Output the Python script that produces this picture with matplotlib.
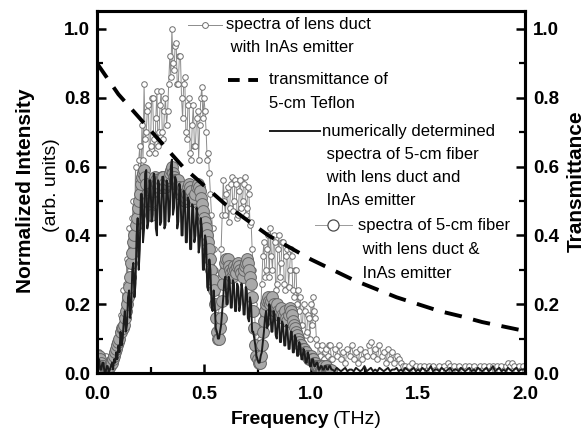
import matplotlib
matplotlib.use("Agg")
import matplotlib.pyplot as plt
import numpy as np
from matplotlib.ticker import MultipleLocator

plt.rcParams['font.family'] = ['Liberation Sans', 'DejaVu Sans']

# frequency grid (THz): 0.005 steps up to 1.095, then 0.01 steps up to 2.0
freq = np.round(np.concatenate([np.arange(220) * 0.005, 1.10 + np.arange(91) * 0.01]), 3)

# spectra of lens duct with InAs emitter (small open circles)
lens_duct = [
    0.05, 0.03, 0.06, 0.04, 0.04, 0.02, 0.03, 0.05, 0.05, 0.03,
    0.02, 0.04, 0.03, 0.02, 0.04, 0.03, 0.06, 0.04, 0.09, 0.07,
    0.12, 0.09, 0.17, 0.13, 0.24, 0.15, 0.20, 0.26, 0.33, 0.24,
    0.42, 0.30, 0.36, 0.45, 0.50, 0.40, 0.60, 0.48, 0.56, 0.62,
    0.66, 0.55, 0.72, 0.62, 0.84, 0.68, 0.70, 0.76, 0.78, 0.64,
    0.66, 0.80, 0.80, 0.68, 0.64, 0.74, 0.82, 0.66, 0.70, 0.78,
    0.82, 0.70, 0.68, 0.76, 0.80, 0.72, 0.76, 0.84, 0.92, 0.86,
    1.00, 0.90, 0.88, 0.95, 0.96, 0.84, 0.84, 0.92, 0.92, 0.80,
    0.74, 0.84, 0.86, 0.70, 0.68, 0.78, 0.80, 0.64, 0.62, 0.72,
    0.78, 0.66, 0.66, 0.74, 0.76, 0.62, 0.72, 0.80, 0.83, 0.74,
    0.80, 0.76, 0.70, 0.62, 0.64, 0.58, 0.52, 0.46, 0.42, 0.36,
    0.30, 0.22, 0.14, 0.12, 0.20, 0.28, 0.36, 0.46, 0.56, 0.50,
    0.46, 0.52, 0.54, 0.44, 0.48, 0.55, 0.57, 0.47, 0.50, 0.56,
    0.55, 0.45, 0.46, 0.53, 0.56, 0.48, 0.50, 0.55, 0.57, 0.46,
    0.48, 0.54, 0.52, 0.43, 0.44, 0.36, 0.30, 0.20, 0.12, 0.07,
    0.04, 0.06, 0.10, 0.18, 0.26, 0.34, 0.38, 0.28, 0.30, 0.36,
    0.40, 0.28, 0.42, 0.34, 0.30, 0.40, 0.38, 0.24, 0.26, 0.36,
    0.40, 0.28, 0.32, 0.38, 0.38, 0.26, 0.24, 0.34, 0.36, 0.25,
    0.30, 0.36, 0.34, 0.24, 0.22, 0.30, 0.30, 0.20, 0.24, 0.18,
    0.22, 0.14, 0.14, 0.20, 0.18, 0.11, 0.12, 0.17, 0.16, 0.10,
    0.20, 0.14, 0.22, 0.18, 0.16, 0.10, 0.08, 0.04, 0.05, 0.07,
    0.08, 0.03, 0.04, 0.06, 0.07, 0.03, 0.05, 0.08, 0.08, 0.04,
    # 1.10 .. 2.00
    0.04, 0.07, 0.05, 0.08, 0.04, 0.06, 0.03, 0.07, 0.05, 0.08,
    0.04, 0.06, 0.03, 0.07, 0.04, 0.06, 0.05, 0.08, 0.09, 0.05,
    0.07, 0.04, 0.08, 0.05, 0.06, 0.03, 0.07, 0.04, 0.06, 0.03,
    0.05, 0.04, 0.03, 0.02, 0.02, 0.01, 0.02, 0.03, 0.01, 0.02,
    0.01, 0.02, 0.01, 0.02, 0.01, 0.02, 0.01, 0.02, 0.01, 0.01,
    0.02, 0.01, 0.02, 0.01, 0.03, 0.02, 0.01, 0.02, 0.01, 0.02,
    0.01, 0.01, 0.02, 0.01, 0.02, 0.01, 0.02, 0.01, 0.01, 0.02,
    0.01, 0.02, 0.01, 0.02, 0.01, 0.02, 0.01, 0.02, 0.01, 0.02,
    0.01, 0.02, 0.03, 0.02, 0.03, 0.02, 0.01, 0.02, 0.01, 0.02,
    0.01,
]

# spectra of 5-cm fiber with lens duct & InAs emitter (big grey circles), 0 .. 1.095
fiber = [
    0.03, 0.04, 0.05, 0.04, 0.03, 0.02, 0.02, 0.01, 0.01, 0.01,
    0.01, 0.02, 0.02, 0.03, 0.03, 0.04, 0.05, 0.06, 0.07, 0.08,
    0.09, 0.10, 0.12, 0.13, 0.13, 0.14, 0.16, 0.18, 0.20, 0.22,
    0.25, 0.28, 0.32, 0.35, 0.38, 0.40, 0.43, 0.45, 0.48, 0.50,
    0.52, 0.55, 0.57, 0.58, 0.59, 0.57, 0.55, 0.52, 0.50, 0.47,
    0.46, 0.50, 0.53, 0.56, 0.57, 0.56, 0.55, 0.54, 0.54, 0.55,
    0.56, 0.57, 0.57, 0.55, 0.54, 0.55, 0.56, 0.57, 0.58, 0.59,
    0.60, 0.58, 0.57, 0.56, 0.55, 0.56, 0.56, 0.54, 0.52, 0.53,
    0.54, 0.52, 0.50, 0.51, 0.52, 0.54, 0.55, 0.54, 0.53, 0.51,
    0.50, 0.51, 0.52, 0.54, 0.55, 0.54, 0.53, 0.51, 0.49, 0.47,
    0.45, 0.44, 0.42, 0.40, 0.38, 0.36, 0.33, 0.30, 0.27, 0.24,
    0.20, 0.16, 0.12, 0.10, 0.10, 0.13, 0.16, 0.21, 0.26, 0.29,
    0.32, 0.33, 0.33, 0.31, 0.30, 0.29, 0.28, 0.30, 0.31, 0.30,
    0.29, 0.31, 0.32, 0.31, 0.30, 0.29, 0.28, 0.30, 0.31, 0.32,
    0.33, 0.32, 0.30, 0.28, 0.26, 0.22, 0.18, 0.13, 0.08, 0.05,
    0.04, 0.03, 0.03, 0.05, 0.08, 0.12, 0.15, 0.18, 0.20, 0.21,
    0.22, 0.21, 0.20, 0.21, 0.22, 0.20, 0.18, 0.19, 0.20, 0.18,
    0.17, 0.18, 0.19, 0.17, 0.16, 0.17, 0.18, 0.16, 0.15, 0.17,
    0.19, 0.18, 0.17, 0.15, 0.14, 0.13, 0.12, 0.11, 0.10, 0.09,
    0.08, 0.08, 0.07, 0.07, 0.06, 0.06, 0.05, 0.05, 0.04, 0.04,
    0.05, 0.04, 0.04, 0.03, 0.03, 0.02, 0.02, 0.02, 0.02, 0.01,
    0.01, 0.02, 0.01, 0.01, 0.02, 0.01, 0.01, 0.01, 0.01, 0.01,
]

# numerically determined spectra (solid black)
numeric = [
    0.02, 0.03, 0.04, 0.01, 0.01, 0.03, 0.03, 0.00, 0.00, 0.02,
    0.02, 0.00, 0.01, 0.02, 0.03, 0.01, 0.04, 0.03, 0.06, 0.04,
    0.08, 0.06, 0.12, 0.08, 0.10, 0.15, 0.18, 0.12, 0.14, 0.22,
    0.24, 0.16, 0.20, 0.30, 0.32, 0.22, 0.26, 0.40, 0.45, 0.30,
    0.36, 0.52, 0.52, 0.38, 0.42, 0.58, 0.59, 0.42, 0.44, 0.56,
    0.56, 0.44, 0.46, 0.58, 0.57, 0.42, 0.40, 0.56, 0.55, 0.43,
    0.44, 0.57, 0.57, 0.42, 0.43, 0.56, 0.55, 0.44, 0.46, 0.60,
    0.62, 0.46, 0.48, 0.57, 0.56, 0.42, 0.44, 0.55, 0.53, 0.40,
    0.40, 0.53, 0.52, 0.38, 0.38, 0.51, 0.50, 0.36, 0.36, 0.49,
    0.48, 0.38, 0.40, 0.48, 0.46, 0.35, 0.37, 0.45, 0.42, 0.30,
    0.30, 0.40, 0.38, 0.25, 0.24, 0.33, 0.30, 0.20, 0.18, 0.24,
    0.20, 0.13, 0.12, 0.10, 0.10, 0.12, 0.14, 0.18, 0.22, 0.27,
    0.28, 0.20, 0.20, 0.28, 0.27, 0.19, 0.19, 0.27, 0.26, 0.18,
    0.18, 0.26, 0.25, 0.18, 0.20, 0.26, 0.24, 0.17, 0.17, 0.25,
    0.24, 0.16, 0.15, 0.22, 0.20, 0.12, 0.12, 0.10, 0.08, 0.05,
    0.04, 0.03, 0.03, 0.05, 0.06, 0.09, 0.12, 0.16, 0.18, 0.13,
    0.14, 0.20, 0.19, 0.12, 0.12, 0.18, 0.17, 0.11, 0.10, 0.16,
    0.16, 0.09, 0.09, 0.15, 0.14, 0.08, 0.08, 0.14, 0.13, 0.07,
    0.07, 0.12, 0.12, 0.06, 0.06, 0.11, 0.10, 0.05, 0.05, 0.09,
    0.08, 0.04, 0.04, 0.07, 0.06, 0.03, 0.03, 0.06, 0.05, 0.02,
    0.02, 0.04, 0.04, 0.02, 0.02, 0.03, 0.03, 0.01, 0.01, 0.02,
    0.02, 0.01, 0.01, 0.02, 0.02, 0.01, 0.01, 0.02, 0.02, 0.01,
    # 1.10 .. 2.00
    0.01, 0.005, 0.015, 0.01, 0.005, 0.01, 0.015, 0.005, 0.01, 0.01,
    0.005, 0.015, 0.01, 0.005, 0.01, 0.02, 0.005, 0.01, 0.015, 0.005,
    0.01, 0.005, 0.015, 0.01, 0.005, 0.01, 0.015, 0.005, 0.01, 0.01,
    0.015, 0.005, 0.01, 0.005, 0.015, 0.01, 0.005, 0.01, 0.015, 0.005,
    0.01, 0.005, 0.015, 0.01, 0.005, 0.01, 0.02, 0.005, 0.01, 0.01,
    0.005, 0.015, 0.01, 0.005, 0.01, 0.015, 0.005, 0.01, 0.01, 0.005,
    0.015, 0.01, 0.005, 0.01, 0.015, 0.005, 0.01, 0.005, 0.015, 0.01,
    0.005, 0.01, 0.015, 0.005, 0.01, 0.02, 0.005, 0.01, 0.015, 0.005,
    0.01, 0.005, 0.015, 0.01, 0.005, 0.01, 0.015, 0.005, 0.01, 0.01,
    0.01,
]

# transmittance of 5-cm Teflon (right axis)
t_freq = [0.0, 0.1, 0.2, 0.3, 0.4, 0.5, 0.6, 0.7, 0.8, 0.9, 1.0,
          1.1, 1.2, 1.3, 1.4, 1.5, 1.6, 1.7, 1.8, 1.9, 2.0]
teflon = [0.90, 0.81, 0.74, 0.67, 0.60, 0.545, 0.49, 0.445, 0.40, 0.365, 0.33,
          0.30, 0.27, 0.245, 0.22, 0.20, 0.18, 0.165, 0.148, 0.135, 0.122]

yticks = [0.0, 0.2, 0.4, 0.6, 0.8, 1.0]
xticks = [0.0, 0.5, 1.0, 1.5, 2.0]

fig = plt.figure(figsize=(5.86, 4.36), dpi=100)
ax = fig.add_axes([97/586, 1-373/436, 428/586, 362/436])

ax.plot(freq, lens_duct, color='#8c8c8c', lw=0.7, marker='o', ms=4.0,
        mfc='white', mec='#6e6e6e', mew=0.7, zorder=2)
ax.plot(freq[:len(fiber)], fiber, ls='none', marker='o', ms=8.5,
        mfc='#a9a9a9', mec='#666666', mew=0.7, zorder=3)
ax.plot(freq, numeric, color='#1c1c1c', lw=1.4, zorder=4)

ax2 = ax.twinx()
ax2.plot(t_freq, teflon, color='black', lw=2.8, dashes=(4.5, 3), zorder=5)

for a in (ax, ax2):
    a.set_xlim(0, 2.0)
    a.set_ylim(0, 1.052)
    a.set_yticks(yticks)
    a.yaxis.set_minor_locator(MultipleLocator(0.1))
    for s in a.spines.values():
        s.set_linewidth(2.2)

ax.set_xticks(xticks)
ax.xaxis.set_minor_locator(MultipleLocator(0.25))
ax.tick_params(axis='both', which='major', direction='in', length=6.5, width=1.8,
               labelsize=13.5, top=False, right=False)
ax.tick_params(axis='both', which='minor', direction='in', length=4.5, width=1.6,
               top=False, right=False)
ax.tick_params(axis='x', which='major', pad=9)
ax.tick_params(axis='y', which='major', pad=5)
ax2.tick_params(axis='y', which='major', direction='in', length=6.5, width=1.8,
                labelsize=13.5, pad=6)
ax2.tick_params(axis='y', which='minor', direction='in', length=4.5, width=1.6)
for lab in ax.get_xticklabels() + ax.get_yticklabels() + ax2.get_yticklabels():
    lab.set_fontweight('bold')

# axis labels
fig.text(26/586, 1-191/436, 'Normalized Intensity', rotation=90, ha='center',
         va='center', fontsize=15, fontweight='bold')
fig.text(51/586, 1-185/436, '(arb. units)', rotation=90, ha='center',
         va='center', fontsize=14)
fig.text(329/586, 1-419/436, 'Frequency', ha='right', va='center',
         fontsize=14, fontweight='bold')
fig.text(333/586, 1-419/436, '(THz)', ha='left', va='center', fontsize=14)
fig.text(576/586, 1-181/436, 'Transmittance', rotation=90, ha='center',
         va='center', fontsize=15, fontweight='bold')

# legend drawn by hand, staggered as in the original
tr = ax.transAxes
def ax_x(px):
    return (px - 97) / 428
def ax_y(py):
    return (373 - py) / 362

def block(px, pys, lines):
    for py, line in zip(pys, lines):
        ax.text(ax_x(px), ax_y(py), line, transform=tr, ha='left',
                va='center', fontsize=12, zorder=10)

ax.plot([ax_x(188), ax_x(222)], [ax_y(25)] * 2, transform=tr, color='#8c8c8c',
        lw=0.7, clip_on=False)
ax.plot([ax_x(205)], [ax_y(25)], transform=tr, marker='o', ms=4.2, mfc='white',
        mec='#6e6e6e', mew=0.7, clip_on=False)
block(226, [25, 47], ['spectra of lens duct', ' with InAs emitter'])

ax.plot([ax_x(228), ax_x(258)], [ax_y(80)] * 2, transform=tr, color='black',
        lw=2.8, dashes=(3, 2.2), clip_on=False)
block(269, [80, 103], ['transmittance of', '5-cm Teflon'])

ax.plot([ax_x(270), ax_x(320)], [ax_y(131)] * 2, transform=tr, color='#1c1c1c',
        lw=1.4, clip_on=False)
block(322, [131, 154, 177, 200], ['numerically determined', ' spectra of 5-cm fiber',
                                  ' with lens duct and', ' InAs emitter'])

ax.plot([ax_x(315), ax_x(352)], [ax_y(225)] * 2, transform=tr, color='#9a9a9a',
        lw=0.7, clip_on=False)
ax.plot([ax_x(333)], [ax_y(225)], transform=tr, marker='o', ms=8, mfc='white',
        mec='#4a4a4a', mew=0.9, clip_on=False)
block(358, [225, 249, 274], ['spectra of 5-cm fiber', ' with lens duct &',
                             ' InAs emitter'])

fig.savefig('out.png', dpi=100)
